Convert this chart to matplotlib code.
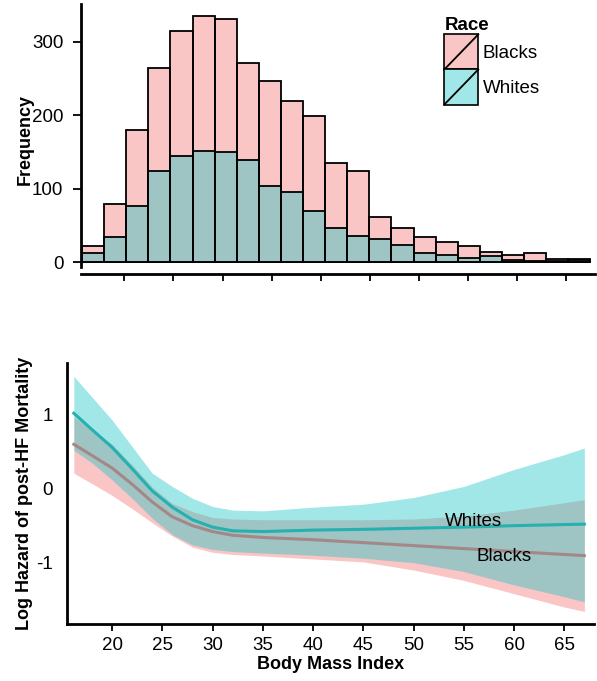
import numpy as np
import matplotlib
matplotlib.use("Agg")
import matplotlib.pyplot as plt
from matplotlib.patches import Rectangle, Patch
from matplotlib.lines import Line2D
from matplotlib.legend_handler import HandlerBase

plt.rcParams["font.family"] = ["Liberation Sans", "DejaVu Sans"]
plt.rcParams["axes.unicode_minus"] = False

# histogram counts (23 bins of BMI)
bin_start = 15.7
bin_width = 2.25
whites_counts = [12, 34, 77, 124, 145, 151, 150, 139, 104, 95, 70, 47, 36,
                 32, 23, 13, 10, 6, 8, 3, 2, 2, 3]
blacks_counts = [10, 45, 103, 140, 170, 184, 181, 132, 142, 124, 129, 88, 88,
                 29, 24, 21, 18, 16, 6, 7, 10, 2, 2]

# log hazard curves
bmi = [16.2, 18, 20, 22, 24, 26, 28, 30, 32, 35, 40, 45, 50, 55, 60, 65, 67]
whites_fit = [1.02, 0.80, 0.56, 0.27, -0.03, -0.25, -0.42, -0.52, -0.57,
              -0.58, -0.56, -0.55, -0.535, -0.52, -0.50, -0.485, -0.48]
whites_hi = [1.52, 1.24, 0.93, 0.57, 0.21, 0.03, -0.13, -0.24, -0.29,
             -0.30, -0.25, -0.21, -0.12, 0.03, 0.26, 0.46, 0.55]
whites_lo = [0.52, 0.35, 0.12, -0.13, -0.40, -0.62, -0.76, -0.82, -0.85,
             -0.87, -0.90, -0.94, -1.00, -1.12, -1.30, -1.46, -1.53]
blacks_fit = [0.60, 0.45, 0.28, 0.06, -0.18, -0.38, -0.50, -0.58, -0.63,
              -0.66, -0.69, -0.73, -0.77, -0.81, -0.85, -0.89, -0.905]
blacks_hi = [0.97, 0.80, 0.60, 0.32, 0.02, -0.20, -0.31, -0.39, -0.41,
             -0.42, -0.42, -0.42, -0.41, -0.37, -0.29, -0.19, -0.15]
blacks_lo = [0.21, 0.07, -0.09, -0.27, -0.46, -0.64, -0.79, -0.86, -0.89,
             -0.91, -0.95, -0.99, -1.10, -1.24, -1.42, -1.60, -1.66]

pink = (242/255, 110/255, 110/255)
cyan = (22/255, 195/255, 195/255)
alpha = 0.4


class DiagHandler(HandlerBase):
    def create_artists(self, legend, orig_handle, xdescent, ydescent,
                       width, height, fontsize, trans):
        r = Rectangle((-xdescent, -ydescent), width, height,
                      facecolor=orig_handle.get_facecolor(), edgecolor="black",
                      lw=1.2, transform=trans)
        l = Line2D([-xdescent, -xdescent + width], [-ydescent, -ydescent + height],
                   color="black", lw=1.3, transform=trans)
        return [r, l]


fig = plt.figure(figsize=(5.97, 6.81), dpi=100)

# top: histogram
ax1 = fig.add_axes([80.7/597, 0.5977, (595-80.7)/597, 0.994-0.5977])
n = len(whites_counts)
lefts = bin_start + bin_width * np.arange(n)
totals = np.array(whites_counts) + np.array(blacks_counts)
ax1.bar(lefts, totals, width=bin_width, align="edge",
        facecolor=(*pink, alpha), edgecolor="black", lw=1.3)
ax1.bar(lefts, whites_counts, width=bin_width, align="edge",
        facecolor=(*cyan, alpha), edgecolor="black", lw=1.3)
ax1.set_xlim(15.56, 67.93)
ax1.set_ylim(-16, 351)
ax1.set_xticks(range(20, 70, 5))
ax1.set_xticklabels([])
ax1.set_yticks([0, 100, 200, 300])
ax1.set_ylabel("Frequency", fontsize=13, fontweight="bold")
ax1.yaxis.set_label_coords(34/597, 0.5 * (0.5977 + 0.994), transform=fig.transFigure)
ax1.spines["left"].set_bounds(-6, 351)

leg_handles = [Patch(facecolor="#FAC5C5"), Patch(facecolor="#A2E7E7")]
fig.legend(leg_handles, ["Blacks", "Whites"], title="Race",
           handler_map={Patch: DiagHandler()},
           loc="upper left", bbox_to_anchor=(435/597, 1-8/681),
           frameon=False, fontsize=13.5,
           title_fontproperties={"weight": "bold", "size": 13.5},
           alignment="left", handlelength=1.81, handleheight=2.5,
           labelspacing=0.0, handletextpad=0.25, borderpad=0.0)

# bottom: log hazard
ax2 = fig.add_axes([67/597, 0.0837, (594-67)/597, 0.467-0.0837])
ax2.fill_between(bmi, blacks_lo, blacks_hi, color=pink, alpha=alpha, lw=0)
ax2.fill_between(bmi, whites_lo, whites_hi, color=cyan, alpha=alpha, lw=0)
ax2.plot(bmi, whites_fit, color="#26B0B0", lw=2.2)
ax2.plot(bmi, blacks_fit, color="#A48888", lw=2.2)
ax2.text(56.0, -0.44, "Whites", fontsize=13.5, ha="center", va="center")
ax2.text(59.0, -0.92, "Blacks", fontsize=13.5, ha="center", va="center")
ax2.set_xlim(15.52, 67.96)
ax2.set_ylim(-1.83, 1.70)
ax2.set_xticks(range(20, 70, 5))
ax2.set_yticks([-1, 0, 1])
ax2.set_xlabel("Body Mass Index", fontsize=13, fontweight="bold", labelpad=2)
ax2.set_ylabel("Log Hazard of post-HF Mortality", fontsize=13, fontweight="bold")
ax2.yaxis.set_label_coords(33/597, 0.5 * (0.0837 + 0.467), transform=fig.transFigure)

for ax in (ax1, ax2):
    for s in ("top", "right"):
        ax.spines[s].set_visible(False)
    for s in ("left", "bottom"):
        ax.spines[s].set_linewidth(2)
    ax.tick_params(axis="both", labelsize=13.5, width=1.3, colors="black")
    ax.tick_params(axis="x", length=5, pad=4)
ax1.tick_params(axis="y", length=6, pad=6.5)
ax2.tick_params(axis="y", length=0, pad=10)

fig.savefig("out.png", dpi=100)
